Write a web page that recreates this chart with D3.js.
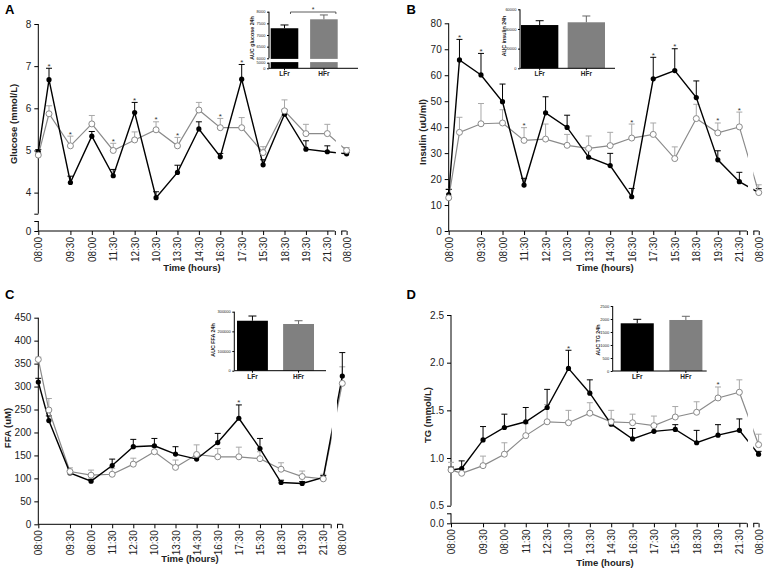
<!DOCTYPE html>
<html><head><meta charset="utf-8">
<script src="https://cdn.jsdelivr.net/npm/d3@7"></script>
<style>
body{margin:0;background:#fff;}
svg{display:block;}
text{font-family:Arial,"Liberation Sans",sans-serif;}
</style>
</head><body>
<svg id="c" width="765" height="568"></svg>
<script>
// ---------------- DATA ----------------
const timePos = [0,0.5,1.5,2.5,3.5,4.5,5.5,6.5,7.5,8.5,9.5,10.5,11.5,12.5,13.5,14.4];
const tickPos = [0,1.5,2.5,3.5,4.5,5.5,6.5,7.5,8.5,9.5,10.5,11.5,12.5,13.5,14.4];
const tickLabels = ["08:00","09:30","08:00","11:30","12:30","10:30","13:30","14:30","16:30","17:30","15:30","18:30","19:30","21:30","08:00"];
const groups = ["LFr","HFr"];

const glucoseLFr    = [4.97,6.68,4.24,5.34,4.40,5.90,3.88,4.48,5.51,4.85,6.69,4.66,5.86,5.03,4.97,4.92];
const glucoseLFrSem = [0.05,0.27,0.15,0.11,0.15,0.24,0.14,0.17,0.17,0.08,0.35,0.12,0.10,0.20,0.14,0.03];
const glucoseHFr    = [4.89,5.87,5.11,5.63,5.00,5.25,5.49,5.11,5.96,5.54,5.54,4.95,5.94,5.40,5.40,5.00];
const glucoseHFrSem = [0.05,0.19,0.23,0.20,0.17,0.19,0.19,0.20,0.18,0.22,0.24,0.14,0.26,0.22,0.22,0.07];
const glucoseStars  = [0.5,1.5,3.5,4.5,5.5,6.5,8.5,9.5];

const insulinLFr    = [14.0,65.9,60.1,49.8,17.7,45.5,39.9,28.4,25.2,13.2,58.6,61.8,51.4,27.4,19.0,14.8];
const insulinLFrSem = [2.0,7.9,8.3,6.8,2.6,6.2,4.7,3.0,4.7,3.2,8.3,8.4,6.4,3.5,3.6,1.5];
const insulinHFr    = [12.8,38.0,41.3,41.6,34.9,35.4,33.0,31.8,32.9,35.8,37.2,27.9,43.3,37.8,40.1,14.8];
const insulinHFrSem = [3.4,5.8,7.8,5.1,4.9,5.8,4.2,4.8,5.1,5.4,4.4,4.5,5.5,3.8,5.7,3.0];
const insulinStars  = [0.5,1.5,3.5,8.5,9.5,10.5,12.5,13.5];

const ffaLFr    = [310,226,112,94,128,169,171,153,142,178,231,165,91,89,102,323];
const ffaLFrSem = [8,10,5,4,14,16,16,16,8,20,29,22,5,4,4,51];
const ffaHFr    = [359,249,115,107,109,131,158,124,152,147,147,143,120,104,99,307];
const ffaHFrSem = [5,25,8,11,13,13,10,16,21,18,21,15,14,12,10,36];
const ffaStars  = [9.5];

const tgLFr    = [0.875,0.89,1.19,1.32,1.38,1.53,1.94,1.68,1.355,1.20,1.28,1.30,1.16,1.24,1.29,1.04];
const tgLFrSem = [0.03,0.08,0.14,0.14,0.15,0.19,0.19,0.14,0.05,0.11,0.05,0.05,0.13,0.11,0.12,0.03];
const tgHFr    = [0.875,0.84,0.92,1.04,1.235,1.38,1.37,1.47,1.38,1.37,1.34,1.43,1.48,1.63,1.69,1.14];
const tgHFrSem = [0.08,0.05,0.10,0.12,0.125,0.18,0.13,0.11,0.12,0.09,0.10,0.11,0.11,0.115,0.13,0.11];
const tgStars  = [5.5,12.5];

const aucGlucose = [7290,7674];   const aucGlucoseSem = [140,186];
const aucInsulin = [44000,46800]; const aucInsulinSem = [4400,6400];
const aucFFA     = [254000,237500]; const aucFFASem = [24000,16500];
const aucTG      = [1835,1962];   const aucTGSem = [153,142];

// ---------------- DRAWING ----------------
const svg = d3.select("#c");
const BLACK = "#000", GRAY_LINE = "#8a8a8a", GRAY_ERR = "#a8a8a8", GRAY_BAR = "#808080";
const FONT = 'Arial,"Liberation Sans",sans-serif';

function drawPanel(p) {
  const g = svg.append("g");
  const x = d3.scaleLinear().domain([0, 13.5]).range([p.x0, p.x0 + 13.5 * p.unit]);
  const y = d3.scaleLinear().domain(p.yDomain).range(p.yRange);

  const ya = g.append("g").attr("transform", `translate(${p.x0},0)`)
    .call(d3.axisLeft(y).tickValues(p.yTicks).tickSize(4).tickSizeOuter(0)
      .tickFormat(d => p.yHide && d === p.yHide ? "" : p.yFmt(d)));
  ya.select(".domain").remove();
  g.append("line").attr("x1", p.x0).attr("x2", p.x0)
    .attr("y1", p.yRange[1]).attr("y2", p.yRange[0]).attr("stroke", BLACK);
  if (p.lower) {
    const yl = d3.scaleLinear().domain([0, 1]).range([p.axisY, p.lower.top]);
    const la = g.append("g").attr("transform", `translate(${p.x0},0)`)
      .call(d3.axisLeft(yl).tickValues([0, 1]).tickSize(4).tickFormat(d => d === 0 ? p.lower.label : ""));
    la.select(".domain").remove();
    g.append("line").attr("x1", p.x0).attr("x2", p.x0)
      .attr("y1", p.lower.top).attr("y2", p.axisY).attr("stroke", BLACK);
  } else {
    g.append("line").attr("x1", p.x0).attr("x2", p.x0)
      .attr("y1", p.yRange[0]).attr("y2", p.axisY).attr("stroke", BLACK);
  }
  g.selectAll(".tick line").attr("stroke", BLACK);
  g.selectAll(".tick text").attr("font-size", 10).attr("fill", "#222").attr("font-family", FONT);

  const xa = g.append("g").attr("transform", `translate(0,${p.axisY})`)
    .call(d3.axisBottom(x).tickValues(tickPos.concat([13.85, 14.15])).tickSize(4)
      .tickFormat(d => { const i = tickPos.indexOf(d); return i >= 0 ? tickLabels[i] : ""; }));
  xa.select(".domain").remove();
  xa.selectAll(".tick line").attr("stroke", BLACK);
  xa.selectAll(".tick text").attr("transform", "rotate(-90)").attr("text-anchor", "end")
    .attr("x", -6).attr("y", 0).attr("dy", "0.35em")
    .attr("font-size", 10).attr("fill", "#222").attr("font-family", FONT);
  g.append("line").attr("x1", p.x0).attr("x2", x(13.85)).attr("y1", p.axisY).attr("y2", p.axisY).attr("stroke", BLACK);
  g.append("line").attr("x1", x(14.15)).attr("x2", x(14.4)).attr("y1", p.axisY).attr("y2", p.axisY).attr("stroke", BLACK);

  const series = [
    {v: p.hfr, s: p.hfrSem, line: GRAY_LINE, err: GRAY_ERR, lw: 1.2},
    {v: p.lfr, s: p.lfrSem, line: BLACK, err: BLACK, lw: 1.4}
  ];
  series.forEach(se => {
    const eg = g.append("g").attr("stroke", se.err).attr("stroke-width", 1);
    timePos.forEach((t, i) => {
      const yt = y(se.v[i] + se.s[i]);
      eg.append("line").attr("x1", x(t)).attr("x2", x(t)).attr("y1", y(se.v[i])).attr("y2", yt);
      eg.append("line").attr("x1", x(t) - 3).attr("x2", x(t) + 3).attr("y1", yt).attr("y2", yt);
    });
  });
  series.forEach(se => {
    g.append("path").datum(timePos.map((t, i) => [t, se.v[i]]))
      .attr("fill", "none").attr("stroke", se.line).attr("stroke-width", se.lw)
      .attr("d", d3.line().x(d => x(d[0])).y(d => y(d[1])));
  });
  g.append("rect").attr("x", x(13.9)).attr("width", x(14.15) - x(13.9))
    .attr("y", p.yRange[1] - 10).attr("height", p.axisY - p.yRange[1] + 9).attr("fill", "#fff");
  g.append("g").selectAll("circle").data(timePos).join("circle")
    .attr("cx", t => x(t)).attr("cy", (t, i) => y(p.lfr[i])).attr("r", 2.6).attr("fill", BLACK);
  g.append("g").selectAll("circle").data(timePos).join("circle")
    .attr("cx", t => x(t)).attr("cy", (t, i) => y(p.hfr[i])).attr("r", 3)
    .attr("fill", "#fff").attr("stroke", "#8a8a8a").attr("stroke-width", 1);
  p.stars.forEach(t => {
    const i = timePos.indexOf(t);
    const top = Math.min(y(p.lfr[i] + p.lfrSem[i]), y(p.hfr[i] + p.hfrSem[i]));
    g.append("text").attr("x", x(t)).attr("y", top + 0.5).attr("text-anchor", "middle")
      .attr("font-size", 8).attr("fill", "#333").text("*");
  });

  g.append("text").attr("x", p.xTitle[0]).attr("y", p.xTitle[1]).attr("text-anchor", "middle")
    .attr("font-size", 9.5).attr("font-weight", "bold").attr("fill", "#222").text("Time (hours)");
  g.append("text").attr("transform", `translate(${p.yTitle[0]},${p.yTitle[1]}) rotate(-90)`)
    .attr("text-anchor", "middle").attr("dy", "0.35em")
    .attr("font-size", 9.5).attr("font-weight", "bold").attr("fill", "#222").text(p.yLabel);
  g.append("text").attr("x", p.letter[0]).attr("y", p.letter[1])
    .attr("font-size", 13).attr("font-weight", "bold").attr("fill", "#000").text(p.letterText);
}

function drawInset(q) {
  const g = svg.append("g");
  const xb = d3.scaleBand().domain(groups).range(q.xRange).paddingInner(q.pad).paddingOuter(0);
  const y = d3.scaleLinear().domain(q.yDomain).range(q.yRange);
  const vals = q.vals, sems = q.sems;
  const colors = [BLACK, GRAY_BAR];
  const errC = [BLACK, "#666"];
  const fmt = d3.format("d");
  groups.forEach((gr, i) => {
    g.append("rect").attr("x", xb(gr)).attr("width", xb.bandwidth())
      .attr("y", y(vals[i])).attr("height", q.bottom - y(vals[i])).attr("fill", colors[i]);
    const cx = xb(gr) + xb.bandwidth() / 2, yt = y(vals[i] + sems[i]);
    g.append("line").attr("x1", cx).attr("x2", cx).attr("y1", y(vals[i])).attr("y2", yt).attr("stroke", errC[i]);
    g.append("line").attr("x1", cx - 4).attr("x2", cx + 4).attr("y1", yt).attr("y2", yt).attr("stroke", errC[i]);
  });
  if (q.lower) {
    g.append("rect").attr("x", q.axisX + 1).attr("width", q.xEnd - q.axisX)
      .attr("y", q.yRange[0] + 0.6).attr("height", q.lower.top - q.yRange[0] - 1.2).attr("fill", "#fff");
  }
  const ya = g.append("g").attr("transform", `translate(${q.axisX},0)`)
    .call(d3.axisLeft(y).tickValues(q.ticks).tickSize(2).tickPadding(1.5).tickFormat(fmt));
  ya.select(".domain").remove();
  g.append("line").attr("x1", q.axisX).attr("x2", q.axisX).attr("y1", q.yRange[1]).attr("y2", q.lower ? q.yRange[0] : q.bottom).attr("stroke", BLACK);
  if (q.lower) {
    const yl = d3.scaleLinear().domain(q.lower.domain).range([q.bottom, q.lower.top]);
    const la = g.append("g").attr("transform", `translate(${q.axisX},0)`)
      .call(d3.axisLeft(yl).tickValues(q.lower.domain).tickSize(2).tickPadding(1.5).tickFormat(fmt));
    la.select(".domain").remove();
    g.append("line").attr("x1", q.axisX).attr("x2", q.axisX).attr("y1", q.lower.top).attr("y2", q.bottom).attr("stroke", BLACK);
  }
  g.selectAll(".tick text").attr("font-size", 4).attr("fill", "#222").attr("font-family", FONT);
  g.selectAll(".tick line").attr("stroke", BLACK);
  g.append("line").attr("x1", q.axisX).attr("x2", q.xEnd).attr("y1", q.bottom).attr("y2", q.bottom).attr("stroke", BLACK);
  groups.forEach(gr => {
    const cx = xb(gr) + xb.bandwidth() / 2;
    g.append("line").attr("x1", cx).attr("x2", cx).attr("y1", q.bottom).attr("y2", q.bottom + 2).attr("stroke", BLACK);
    g.append("text").attr("x", cx).attr("y", q.bottom + 8).attr("text-anchor", "middle")
      .attr("font-size", 6.5).attr("font-weight", "bold").attr("fill", "#222").text(gr);
  });
  g.append("text").attr("transform", `translate(${q.title[0]},${q.title[1]}) rotate(-90)`)
    .attr("text-anchor", "middle").attr("dy", "0.35em")
    .attr("font-size", 5.3).attr("font-weight", "bold").attr("fill", "#222").text(q.titleText);
  if (q.sig) {
    const c0 = xb(groups[0]) + xb.bandwidth() / 2 + 6, c1 = xb(groups[1]) + xb.bandwidth() / 2 + 12;
    const yb = q.sig;
    g.append("path").attr("d", `M${c0},${yb + 2}V${yb}H${c1}V${yb + 2}`).attr("fill", "none").attr("stroke", "#333").attr("stroke-width", 0.8);
    g.append("text").attr("x", (c0 + c1) / 2).attr("y", yb - 0.5).attr("text-anchor", "middle")
      .attr("font-size", 7).attr("fill", "#333").text("*");
  }
}

drawPanel({x0: 38.3, unit: 21.41, yDomain: [3.5, 8], yRange: [213.7, 24], yTicks: [3.5,4,5,6,7,8], yHide: 3.5,
  yFmt: d => d, lower: {top: 221, label: "0"}, axisY: 231,
  lfr: glucoseLFr, lfrSem: glucoseLFrSem, hfr: glucoseHFr, hfrSem: glucoseHFrSem, stars: glucoseStars,
  xTitle: [192, 271], yTitle: [13.5, 124], yLabel: "Glucose (mmol/L)", letter: [5, 14], letterText: "A"});
drawPanel({x0: 448.7, unit: 21.53, yDomain: [0, 80], yRange: [231, 23.3], yTicks: d3.range(0, 81, 10),
  yFmt: d => d, axisY: 231,
  lfr: insulinLFr, lfrSem: insulinLFrSem, hfr: insulinHFr, hfrSem: insulinHFrSem, stars: insulinStars,
  xTitle: [605, 271], yTitle: [423, 132], yLabel: "Insulin (uU/ml)", letter: [406.5, 13.5], letterText: "B"});
drawPanel({x0: 38.3, unit: 21.11, yDomain: [0, 450], yRange: [524.3, 317.7], yTicks: d3.range(0, 451, 50),
  yFmt: d => d, axisY: 524.3,
  lfr: ffaLFr, lfrSem: ffaLFrSem, hfr: ffaHFr, hfrSem: ffaHFrSem, stars: ffaStars,
  xTitle: [190, 562], yTitle: [8, 428], yLabel: "FFA (uM)", letter: [5, 298.5], letterText: "C"});
drawPanel({x0: 451, unit: 21.36, yDomain: [0.5, 2.5], yRange: [505.7, 315], yTicks: [0.5,1,1.5,2,2.5],
  yFmt: d3.format(".1f"), lower: {top: 513.3, label: "0.0"}, axisY: 523.3,
  lfr: tgLFr, lfrSem: tgLFrSem, hfr: tgHFr, hfrSem: tgHFrSem, stars: tgStars,
  xTitle: [605, 566], yTitle: [428, 415], yLabel: "TG (mmol/L)", letter: [406.5, 298.5], letterText: "D"});

drawInset({xRange: [270.7, 337.7], pad: 0.3, axisX: 269, xEnd: 358, yDomain: [6000, 8000], yRange: [58.3, 11.7],
  ticks: [6000,6500,7000,7500,8000], bottom: 68.3, lower: {top: 62.7, domain: [0, 5000]},
  vals: aucGlucose, sems: aucGlucoseSem, title: [252.5, 38], titleText: "AUC glucose 24h", sig: 12});
drawInset({xRange: [521, 605], pad: 0.2, axisX: 520, xEnd: 615, yDomain: [0, 60000], yRange: [68.3, 9.3],
  ticks: [0,20000,40000,60000], bottom: 68.3,
  vals: aucInsulin, sems: aucInsulinSem, title: [504.5, 36], titleText: "AUC insulin 24h"});
drawInset({xRange: [237, 314], pad: 0.33, axisX: 234.3, xEnd: 326, yDomain: [0, 300000], yRange: [370.7, 311.7],
  ticks: [0,100000,200000,300000], bottom: 370.7,
  vals: aucFFA, sems: aucFFASem, title: [213.5, 340], titleText: "AUC FFA 24h"});
drawInset({xRange: [620.7, 702.4], pad: 0.32, axisX: 612.7, xEnd: 706.7, yDomain: [0, 2500], yRange: [371, 306],
  ticks: [0,500,1000,1500,2000,2500], bottom: 371,
  vals: aucTG, sems: aucTGSem, title: [598, 340], titleText: "AUC TG 24h"});
</script>
</body></html>
